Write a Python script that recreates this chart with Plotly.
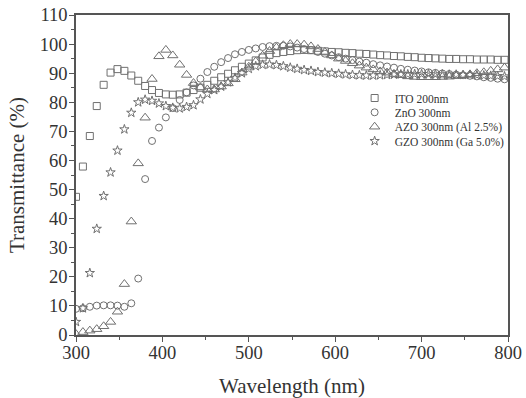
import plotly.graph_objects as go

wavelength = [300, 308, 316, 324, 332, 340, 348, 356, 364, 372,
              380, 388, 396, 404, 412, 420, 428, 436, 444, 452,
              460, 468, 476, 484, 492, 500, 508, 516, 524, 532,
              540, 548, 556, 564, 572, 580, 588, 596, 604, 612,
              620, 628, 636, 644, 652, 660, 668, 676, 684, 692,
              700, 708, 716, 724, 732, 740, 748, 756, 764, 772,
              780, 788, 796]

ito = [47.5, 57.9, 68.4, 78.7, 86.0, 90.2, 91.4, 90.8, 89.2, 87.4,
       85.6, 84.2, 83.2, 82.7, 82.6, 82.7, 83.3, 84.2, 85.0, 86.0,
       87.4, 88.6, 89.8, 91.0, 92.2, 93.3, 94.4, 95.4, 96.3, 96.9,
       97.3, 97.6, 97.9, 98.0, 97.9, 97.7, 97.5, 97.3, 97.2, 97.0,
       96.9, 96.7, 96.6, 96.4, 96.2, 96.1, 95.9, 95.8, 95.6, 95.5,
       95.3, 95.2, 95.1, 95.0, 94.9, 94.9, 94.8, 94.8, 94.7, 94.7,
       94.7, 94.6, 94.6]

zno = [9.0, 9.2, 9.7, 10.1, 10.2, 10.2, 10.1, 9.7, 10.9, 19.4,
       53.6, 66.7, 71.3, 74.8, 78.0, 80.8, 83.4, 85.8, 88.1, 90.4,
       92.2, 93.8, 95.2, 96.5, 97.3, 98.0, 98.5, 99.0, 99.3, 99.4,
       99.4, 99.2, 98.8, 98.3, 97.9, 97.3, 96.7, 96.1, 95.5, 95.0,
       94.5, 94.0, 93.6, 93.1, 92.7, 92.3, 91.9, 91.5, 91.2, 90.9,
       90.6, 90.3, 90.1, 89.9, 89.7, 89.5, 89.3, 89.1, 88.9, 88.6,
       88.4, 88.1, 87.9]

azo = [0.3, 1.0, 1.5, 2.0, 3.0, 4.5, 8.0, 17.5, 39.0, 59.0,
       74.7, 88.0, 95.8, 98.0, 96.1, 92.9, 89.4, 86.6, 85.1, 84.4,
       84.4, 85.4, 86.5, 87.9, 90.2, 92.2, 94.0, 96.0, 97.6, 98.8,
       99.6, 100.0, 100.0, 99.8, 99.2, 98.3, 97.3, 96.1, 95.0, 94.2,
       93.4, 92.6, 91.9, 91.3, 90.6, 90.2, 89.7, 89.3, 88.9, 88.7,
       88.6, 88.6, 88.6, 88.7, 88.8, 89.0, 89.3, 89.6, 90.0, 90.3,
       90.8, 91.3, 91.9]

gzo = [4.5, 9.2, 21.3, 36.5, 47.8, 55.9, 63.4, 70.7, 76.4, 80.0,
       80.9, 80.5, 79.6, 78.7, 78.1, 77.9, 78.4, 79.0, 81.0, 82.9,
       84.2, 85.4, 86.9, 88.4, 90.0, 91.5, 92.4, 92.9, 93.0, 92.8,
       92.4, 91.9, 91.5, 91.1, 90.8, 90.4, 90.2, 90.0, 89.8, 89.6,
       89.4, 89.3, 89.2, 89.2, 89.3, 89.4, 89.5, 89.6, 89.6, 89.7,
       89.7, 89.7, 89.6, 89.6, 89.5, 89.5, 89.4, 89.4, 89.3, 89.2,
       89.1, 89.0, 88.9]

series_names = ["ITO 200nm", "ZnO 300nm", "AZO 300nm (Al 2.5%)", "GZO 300nm (Ga 5.0%)"]
series_values = [ito, zno, azo, gzo]
symbols = ["square-open", "circle-open", "triangle-up-open", "star-open"]
sizes = [7, 7, 9, 7]
legend_ids = ["legend", "legend2", "legend3", "legend4"]

grey = "#707070"
fig = go.Figure()
for name, vals, sym, sz, lg in zip(series_names, series_values, symbols, sizes, legend_ids):
    fig.add_trace(go.Scatter(
        x=wavelength, y=vals, mode="markers", name=name, legend=lg,
        marker=dict(symbol=sym, size=sz, color=grey, line=dict(color=grey, width=1)),
    ))

axis_common = dict(
    showline=True, linecolor="#555555", linewidth=1.5, mirror=True,
    ticks="outside", ticklen=5, tickwidth=1.2, tickcolor="#555555",
    showgrid=False, zeroline=False, automargin=False,
    ticklabeloverflow="allow",
    tickfont=dict(family="Liberation Serif", size=18.5, color="#333333"),
)

fig.update_xaxes(
    range=[300, 800], tickvals=[300, 400, 500, 600, 700, 800],
    minor=dict(dtick=50, tick0=300, ticks="outside", ticklen=3, tickcolor="#555555"),
    ticklabelstandoff=-5,
    title=dict(text="Wavelength (nm)", font=dict(family="Liberation Serif", size=21, color="#333333"), standoff=31),
    **axis_common,
)
fig.update_yaxes(
    range=[0, 110], tickvals=list(range(0, 111, 10)),
    minor=dict(dtick=5, tick0=0, ticks="outside", ticklen=3, tickcolor="#555555"),
    ticklabelstandoff=-2,
    title=dict(text="Transmittance (%)", font=dict(family="Liberation Serif", size=21, color="#333333"), standoff=9),
    **axis_common,
)

# plot area spans x 76..508, y 15..335 in the window (body margin removed below)
legend_font = dict(family="Liberation Serif", size=11.5, color="#333333")
row_px = [98, 112.3, 126.7, 141]
legends = {}
for lg, py in zip(legend_ids, row_px):
    legends[lg] = dict(
        x=0.645, y=(335 - py) / 320, xanchor="left", yanchor="middle",
        font=legend_font, bgcolor="rgba(0,0,0,0)", itemwidth=30,
    )

fig.update_layout(
    width=526, height=398,
    margin=dict(l=76, r=18, t=15, b=63),
    paper_bgcolor="white", plot_bgcolor="white",
    showlegend=True,
    **legends,
)

fig.write_html(
    "out.html",
    config={"displayModeBar": False},
    post_script="document.body.style.margin='0';document.body.style.overflow='hidden';",
)
